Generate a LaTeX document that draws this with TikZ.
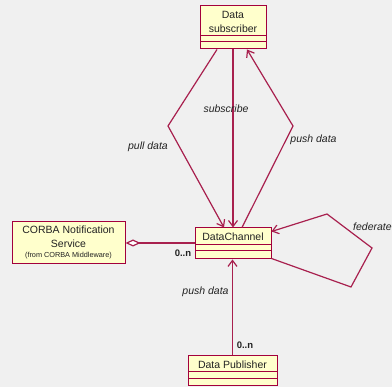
\documentclass[tikz,border=0pt]{standalone}
\usepackage{fontspec}
\setmainfont{Liberation Sans}
\usetikzlibrary{arrows.meta,calc}
\definecolor{umlred}{HTML}{A3003C}
\definecolor{umlline}{HTML}{A8204E}
\definecolor{umlfill}{HTML}{FFFFCC}
\definecolor{bgray}{HTML}{F0F0F0}
\definecolor{txt}{HTML}{222222}
\tikzset{
  cls/.style={draw=umlred, fill=umlfill, line width=1pt, rectangle, inner sep=0pt},
  clsname/.style={text=txt, font=\fontsize{10.5}{13.5}\selectfont, align=center, inner sep=0pt},
  conn/.style={draw=umlline, line width=1.2pt},
  opentip/.style={-{Straight Barb[length=6pt,width=9pt]}},
  lbl/.style={text=txt, font=\fontsize{10.5}{12}\selectfont\itshape, inner sep=0pt},
  mult/.style={text=txt, font=\fontsize{9.5}{11}\selectfont\bfseries, inner sep=0pt}
}
\begin{document}
\begin{tikzpicture}[x=1pt,y=-1pt]
\fill[bgray] (0,0) rectangle (392,387);
\useasboundingbox (0,0) rectangle (392,387);
% classes
\node[cls, minimum width=66pt, minimum height=43pt] (sub) at (233,27.5) {};
\draw[umlred, line width=1pt] (200,36) -- (266,36) (200,42) -- (266,42);
\node[clsname] (subt) at (233,22) {Data\\subscriber};

\node[cls, minimum width=76pt, minimum height=31pt] (dc) at (233,243.5) {};
\draw[umlred, line width=1pt] (195,244.3) -- (271,244.3) (195,250.8) -- (271,250.8);
\node[clsname] (dct) at (233,236.5) {DataChannel};

\node[cls, minimum width=113pt, minimum height=42pt] (corba) at (68.5,243) {};
\node[clsname] (corbat) at (68.5,237) {CORBA Notification\\Service};
\node[text=txt, font=\fontsize{7.3}{8}\selectfont, inner sep=0pt] (corbaf) at (68.5,255.5) {(from CORBA Middleware)};

\node[cls, minimum width=89pt, minimum height=30pt] (pub) at (232.5,371) {};
\draw[umlred, line width=1pt] (188,372) -- (277,372) (188,379) -- (277,379);
\node[clsname] (pubt) at (232.5,364.3) {Data Publisher};

% connectors
\coordinate (pullbend) at (168,126);
\coordinate (pushbend) at (293,126);
\draw[conn, opentip] ([xshift=-16pt]sub.south) -- (pullbend) -- ([xshift=-9pt]dc.north);
\draw[conn, opentip] (sub.south) -- (dc.north);
\draw[conn, opentip] ([xshift=9pt]dc.north) -- (pushbend) -- ([xshift=14pt]sub.south);

\coordinate (f1) at (351,287);
\coordinate (f2) at (372,248);
\coordinate (f3) at (327,214);
\draw[conn, opentip] ([yshift=1pt]dc.south east) -- (f1) -- (f2) -- (f3) -- ([yshift=-4pt]dc.north east);

\draw[conn, {Diamond[open,length=15pt,width=7pt,fill=white]}-] (corba.east) -- (corba.east -| dc.west);
\draw[conn, opentip] (pub.north) -- (pub.north |- dc.south);

% labels
\node[lbl] (lsub) at (226,109) {subscribe};
\node[lbl] (lpull) at (148,147) {pull data};
\node[lbl] (lpush) at (313.5,140) {push data};
\node[lbl] (lpush2) at (205.5,292) {push data};
\node[lbl, anchor=west] (lfed) at (353,227) {federate};
\node[mult] (m1) at (183,253) {0..n};
\node[mult] (m2) at (245,345) {0..n};
\end{tikzpicture}
\end{document}
